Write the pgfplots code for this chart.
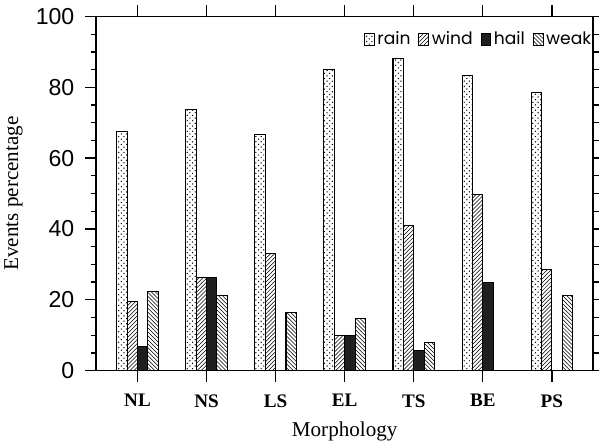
\documentclass[border=0pt]{standalone}
\usepackage{fontspec}
\setmainfont{Liberation Sans}
\newfontfamily\seriffont{Liberation Serif}
\newfontfamily\legfont{Poppins}
\usepackage{pgfplots}
\pgfplotsset{compat=1.18}
\usetikzlibrary{patterns}
\pgfdeclarepatternformonly{sparsedots}{\pgfqpoint{-1pt}{-1pt}}{\pgfqpoint{5pt}{5pt}}{\pgfqpoint{4pt}{4pt}}{%
  \pgfpathcircle{\pgfqpoint{0pt}{0pt}}{0.55pt}%
  \pgfpathcircle{\pgfqpoint{2pt}{2pt}}{0.55pt}%
  \pgfusepath{fill}}
\begin{document}
\begin{tikzpicture}
\begin{axis}[
  scale only axis,
  width=377pt, height=268.5pt,
  xmin=-0.6, xmax=6.6, ymin=0, ymax=100,
  xtick={0,...,6},
  xticklabels={NL,NS,LS,EL,TS,BE,PS},
  ytick={0,20,...,100},
  minor y tick num=3,
  xtick pos=both, ytick pos=left,
  tick align=outside,
  major tick length=8.5pt,
  minor tick length=4pt,
  tick style={black, line width=1pt},
  axis line style={line width=1.2pt},
  x tick label style={font=\seriffont\bfseries\fontsize{14.5}{17}\selectfont, yshift=-6pt},
  y tick label style={font=\fontsize{17.5}{19}\selectfont, xshift=-4.5pt},
  /pgf/number format/assume math mode=true,
  xlabel={Morphology},
  ylabel={Events percentage},
  label style={font=\seriffont\fontsize{16}{18}\selectfont},
  xlabel style={yshift=-4pt},
  ylabel style={yshift=3pt},
  ybar,
  bar width=0.15,
  legend columns=4,
  legend style={draw=none, fill=none, at={(1.007,0.936)}, anchor=east,
    font=\legfont\fontsize{13}{15}\selectfont,
    nodes={inner sep=1pt},
    /tikz/every odd column/.append style={column sep=1pt},
    /tikz/every even column/.append style={column sep=5pt}},
  legend image code/.code={\draw[#1, line width=0.6pt] (0pt,-4.5pt) rectangle (7.5pt,4.5pt);},
]
\addplot[draw=black, line width=0.8pt, pattern=sparsedots, bar shift=-0.225] coordinates {
 (0,67.5) (1,73.6) (2,66.7) (3,85.0) (4,88.2) (5,83.3) (6,78.6)};
\addplot[draw=black, line width=0.8pt, pattern=north east lines, bar shift=-0.075] coordinates {
 (0,19.5) (1,26.2) (2,33.0) (3,9.8) (4,41.0) (5,49.8) (6,28.5)};
\addplot[draw=black, line width=0.8pt, fill=black!88, bar shift=0.075] coordinates {
 (0,6.8) (1,26.3) (3,9.8) (4,5.8) (5,24.9)};
\addplot[draw=black, line width=0.8pt, pattern=north west lines, bar shift=0.225] coordinates {
 (0,22.3) (1,21.2) (2,16.5) (3,14.7) (4,7.8) (6,21.2)};
\legend{rain,wind,hail,weak}
\end{axis}
\begin{axis}[
  scale only axis,
  width=377pt, height=268.5pt,
  xmin=-0.6, xmax=6.6, ymin=0, ymax=100,
  axis x line=none, axis y line*=right,
  axis line style={line width=1.2pt},
  ytick={0,5,...,100}, yticklabels={},
  tick align=outside,
  major tick length=4.3pt,
  tick style={black, line width=1pt},
]
\addplot[draw=none] coordinates {(0,0)};
\end{axis}
\path ([yshift=12.5pt]current axis.north east);
\end{tikzpicture}
\end{document}
